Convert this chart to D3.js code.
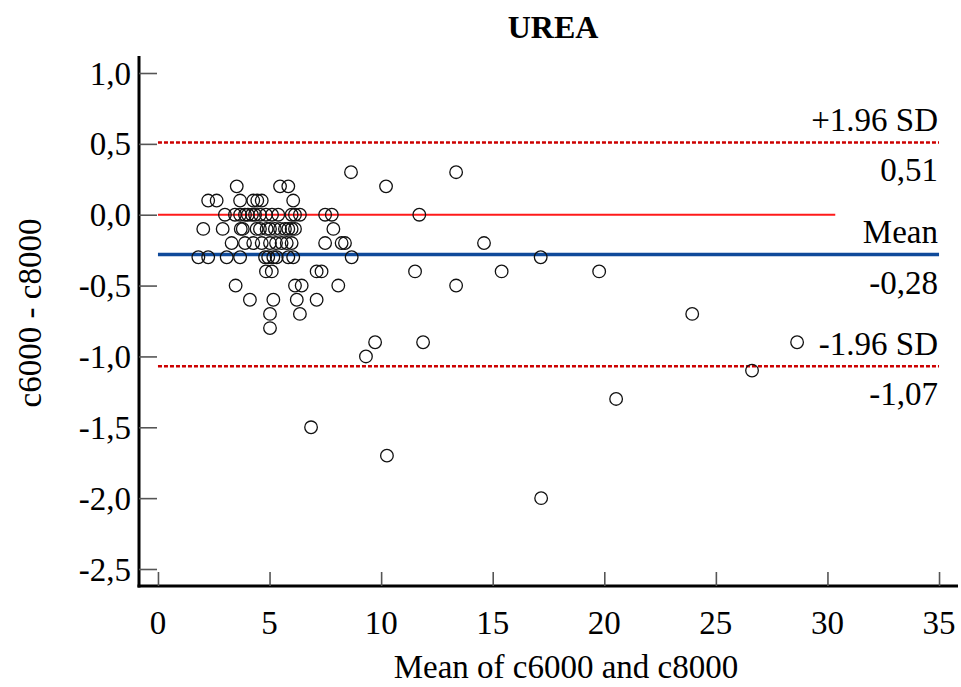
<!DOCTYPE html>
<html>
<head>
<meta charset="utf-8">
<script src="https://cdn.jsdelivr.net/npm/d3@7"></script>
<style>
html,body{margin:0;padding:0;background:#fff;}
svg{display:block;font-family:"Liberation Serif","Times New Roman",serif;}
</style>
</head>
<body>
<svg id="chart" width="961" height="687"></svg>
<script>
// ---- Data ----
const title = "UREA";
const xLabel = "Mean of c6000 and c8000";
const yLabel = "c6000 - c8000";
const xTicks = [0, 5, 10, 15, 20, 25, 30, 35];
const yTicks = [1.0, 0.5, 0.0, -0.5, -1.0, -1.5, -2.0, -2.5];
// mean of the two methods
const meanValues = [
  8.65, 13.36,
  3.53, 5.47, 5.84, 10.22,
  2.25, 2.63, 3.68, 4.27, 4.45, 4.65, 6.06,
  3.0, 3.45, 3.68, 3.9, 4.03, 4.21, 4.35, 4.57, 4.84, 5.11, 5.39, 5.99, 6.14, 6.36, 7.49, 7.79, 11.71,
  2.03, 2.9, 3.71, 3.8, 4.42, 4.57, 4.87, 5.02, 5.24, 5.47, 5.69, 5.84, 5.99, 6.14, 7.86,
  3.3, 3.9, 4.27, 4.65, 5.02, 5.29, 5.54, 5.77, 5.99, 7.49, 8.23, 8.38, 14.61,
  1.81, 2.25, 3.08, 3.68, 4.8, 4.94, 5.17, 5.32, 5.84, 6.06, 8.68, 17.15,
  4.84, 5.1, 7.11, 7.33, 11.52, 15.4, 19.77,
  3.48, 6.14, 6.44, 8.08, 13.36,
  4.12, 5.17, 6.22, 7.11,
  5.02, 6.36, 23.94,
  5.02,
  9.73, 11.88, 28.64,
  9.32,
  26.62,
  20.53,
  6.86,
  10.26,
  17.17
];
// difference of the two methods
const diffValues = [
  0.3, 0.3,
  0.2, 0.2, 0.2, 0.2,
  0.1, 0.1, 0.1, 0.1, 0.1, 0.1, 0.1,
  0, 0, 0, 0, 0, 0, 0, 0, 0, 0, 0, 0, 0, 0, 0, 0, 0,
  -0.1, -0.1, -0.1, -0.1, -0.1, -0.1, -0.1, -0.1, -0.1, -0.1, -0.1, -0.1, -0.1, -0.1, -0.1,
  -0.2, -0.2, -0.2, -0.2, -0.2, -0.2, -0.2, -0.2, -0.2, -0.2, -0.2, -0.2, -0.2,
  -0.3, -0.3, -0.3, -0.3, -0.3, -0.3, -0.3, -0.3, -0.3, -0.3, -0.3, -0.3,
  -0.4, -0.4, -0.4, -0.4, -0.4, -0.4, -0.4,
  -0.5, -0.5, -0.5, -0.5, -0.5,
  -0.6, -0.6, -0.6, -0.6,
  -0.7, -0.7, -0.7,
  -0.8,
  -0.9, -0.9, -0.9,
  -1.0,
  -1.1,
  -1.3,
  -1.5,
  -1.7,
  -2.0
];
const meanDiff = -0.28;
const upperLoA = 0.51;
const lowerLoA = -1.07;
const refLabels = ["+1.96 SD", "0,51", "Mean", "-0,28", "-1.96 SD", "-1,07"];
const zeroLineExtent = [0, 30.35];
const refLineExtent = [0, 35];
const xDomain = [-0.85, 35.85];
const yDomain = [-2.62, 1.12];

// ---- Layout ----
const svg = d3.select("#chart");
const x = d3.scaleLinear().domain(xDomain).range([139, 958]);
const y = d3.scaleLinear().domain(yDomain).range([586, 56]);
const fmt = v => d3.format(".1f")(v).replace(".", ",").replace("−", "-");

// title
svg.append("text").attr("x", 553).attr("y", 38).attr("text-anchor", "middle")
  .attr("font-size", 32).attr("font-weight", "bold").text(title);

// axes lines
svg.append("line").attr("x1", x(xDomain[0])).attr("x2", x(xDomain[0]))
  .attr("y1", y(yDomain[1])).attr("y2", y(yDomain[0]) + 1.5)
  .attr("stroke", "#000").attr("stroke-width", 3);
svg.append("line").attr("x1", x(xDomain[0]) - 1.5).attr("x2", x(xDomain[1]))
  .attr("y1", y(yDomain[0])).attr("y2", y(yDomain[0]))
  .attr("stroke", "#000").attr("stroke-width", 3);

// y ticks
const yAxis = d3.axisRight(y).tickValues(yTicks).tickSize(18).tickFormat("");
const gy = svg.append("g").attr("transform", `translate(${x(xDomain[0])},0)`).call(yAxis);
gy.select(".domain").remove();
gy.selectAll(".tick line").attr("stroke", "#555").attr("stroke-width", 1.6);
svg.append("g").selectAll("text").data(yTicks).join("text")
  .attr("x", 131).attr("y", d => y(d)).attr("dy", "0.35em")
  .attr("text-anchor", "end").attr("font-size", 33).text(d => fmt(d));

// x ticks
const xAxis = d3.axisTop(x).tickValues(xTicks).tickSize(14).tickFormat("");
const gx = svg.append("g").attr("transform", `translate(0,${y(yDomain[0])})`).call(xAxis);
gx.select(".domain").remove();
gx.selectAll(".tick line").attr("stroke", "#555").attr("stroke-width", 1.6);
svg.append("g").selectAll("text").data(xTicks).join("text")
  .attr("x", d => x(d)).attr("y", 634).attr("text-anchor", "middle")
  .attr("font-size", 33).text(d => d);

// axis titles
svg.append("text").attr("x", 566).attr("y", 678).attr("text-anchor", "middle")
  .attr("font-size", 33).text(xLabel);
svg.append("text").attr("transform", "translate(41,313) rotate(-90)")
  .attr("text-anchor", "middle").attr("font-size", 33).text(yLabel);

// reference lines
svg.append("line").attr("x1", x(zeroLineExtent[0])).attr("x2", x(zeroLineExtent[1]))
  .attr("y1", y(0)).attr("y2", y(0)).attr("stroke", "#ff1a1a").attr("stroke-width", 2);
svg.append("line").attr("x1", x(refLineExtent[0])).attr("x2", x(refLineExtent[1]))
  .attr("y1", y(meanDiff)).attr("y2", y(meanDiff)).attr("stroke", "#0f4a9a").attr("stroke-width", 3.5);
[upperLoA, lowerLoA].forEach(v => {
  svg.append("line").attr("x1", x(refLineExtent[0])).attr("x2", x(refLineExtent[1]))
    .attr("y1", y(v)).attr("y2", y(v)).attr("stroke", "#cc0000")
    .attr("stroke-width", 2.5).attr("stroke-dasharray", "4,2");
});

// reference labels
const refY = [upperLoA, upperLoA, meanDiff, meanDiff, lowerLoA, lowerLoA];
const refOff = [-11, 39, -11, 40, -11, 39];
svg.append("g").selectAll("text").data(refLabels).join("text")
  .attr("x", 938).attr("y", (d, i) => y(refY[i]) + refOff[i])
  .attr("text-anchor", "end").attr("font-size", 33).text(d => d);

// points
const pts = meanValues.map((m, i) => ({m, d: diffValues[i]}));
svg.append("g").selectAll("circle").data(pts).join("circle")
  .attr("cx", p => x(p.m)).attr("cy", p => y(p.d)).attr("r", 6.3)
  .attr("fill", "none").attr("stroke", "#111").attr("stroke-width", 1.3);
</script>
</body>
</html>
